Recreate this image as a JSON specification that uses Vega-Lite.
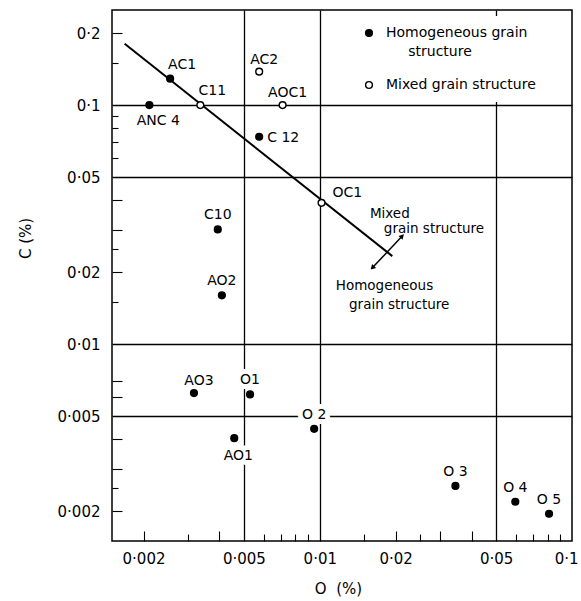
{
  "$schema": "https://vega.github.io/schema/vega-lite/v6.json",
  "width": 460,
  "height": 531,
  "autosize": {"type": "none"},
  "padding": {"left": 112, "top": 10, "right": 9, "bottom": 60},
  "background": "white",
  "config": {
    "view": {"stroke": "black", "strokeWidth": 1.5},
    "font": "DejaVu Sans",
    "axis": {"domain": false, "labelColor": "black", "titleColor": "black", "tickColor": "black", "gridColor": "black", "gridOpacity": 1, "gridWidth": 1.3, "tickWidth": 1.1},
    "text": {"font": "DejaVu Sans", "fontSize": 14, "color": "black"},
    "style": {"guide-label": {"lineHeight": 19}}
  },
  "datasets": {
    "samples": [
      {"name": "AC1", "O": 0.00255, "C": 0.129, "structure": "Homogeneous grain structure"},
      {"name": "ANC 4", "O": 0.00211, "C": 0.1, "structure": "Homogeneous grain structure"},
      {"name": "C11", "O": 0.00336, "C": 0.1, "structure": "Mixed grain structure"},
      {"name": "AC2", "O": 0.00575, "C": 0.138, "structure": "Mixed grain structure"},
      {"name": "AOC1", "O": 0.00712, "C": 0.1, "structure": "Mixed grain structure"},
      {"name": "C 12", "O": 0.00575, "C": 0.0737, "structure": "Homogeneous grain structure"},
      {"name": "OC1", "O": 0.01016, "C": 0.039, "structure": "Mixed grain structure"},
      {"name": "C10", "O": 0.00394, "C": 0.0302, "structure": "Homogeneous grain structure"},
      {"name": "AO2", "O": 0.00409, "C": 0.016, "structure": "Homogeneous grain structure"},
      {"name": "AO3", "O": 0.00317, "C": 0.00624, "structure": "Homogeneous grain structure"},
      {"name": "O1", "O": 0.00529, "C": 0.00616, "structure": "Homogeneous grain structure"},
      {"name": "AO1", "O": 0.00458, "C": 0.00404, "structure": "Homogeneous grain structure"},
      {"name": "O 2", "O": 0.0095, "C": 0.00442, "structure": "Homogeneous grain structure"},
      {"name": "O 3", "O": 0.0345, "C": 0.00255, "structure": "Homogeneous grain structure"},
      {"name": "O 4", "O": 0.0596, "C": 0.00219, "structure": "Homogeneous grain structure"},
      {"name": "O 5", "O": 0.0811, "C": 0.00195, "structure": "Homogeneous grain structure"}
    ],
    "boundary": [
      {"O": 0.001684, "C": 0.1805},
      {"O": 0.01938, "C": 0.02334}
    ],
    "arrow": [
      {"O": 0.01616, "C": 0.02085, "O2": 0.02123, "C2": 0.02831}
    ],
    "arrowHeads": [
      {"O": 0.02123, "C": 0.02831, "end": "up"},
      {"O": 0.01616, "C": 0.02085, "end": "down"}
    ],
    "notes": [
      {"text": "Mixed", "O": 0.0158, "C": 0.0351},
      {"text": "grain structure", "O": 0.01795, "C": 0.0302},
      {"text": "Homogeneous", "O": 0.01157, "C": 0.0175},
      {"text": "grain structure", "O": 0.01306, "C": 0.01456}
    ]
  },
  "encoding": {
    "x": {"field": "O", "type": "quantitative", "scale": {"type": "log", "domain": [0.0015, 0.1], "nice": false, "zero": false}, "axis": null},
    "y": {"field": "C", "type": "quantitative", "scale": {"type": "log", "domain": [0.0015, 0.25], "nice": false, "zero": false}, "axis": null}
  },
  "resolve": {"axis": {"x": "independent", "y": "independent"}},
  "layer": [
    {
      "data": {"name": "boundary"},
      "mark": {"type": "line", "color": "black", "strokeWidth": 2},
      "encoding": {
        "x": {"field": "O", "type": "quantitative", "scale": {"type": "log", "domain": [0.0015, 0.1], "nice": false, "zero": false},
          "axis": {"orient": "bottom", "values": [0.002, 0.004, 0.02, 0.03, 0.04], "labels": false, "grid": false, "ticks": true, "tickSize": -10, "title": null}},
        "y": {"field": "C", "type": "quantitative", "scale": {"type": "log", "domain": [0.0015, 0.25], "nice": false, "zero": false},
          "axis": {"orient": "left", "values": [0.002, 0.003, 0.004, 0.006, 0.007, 0.02, 0.03, 0.04, 0.2], "labels": false, "grid": false, "ticks": true, "tickSize": -10, "title": null}}
      }
    },
    {
      "data": {"name": "arrow"},
      "mark": {"type": "rule", "color": "black", "strokeWidth": 1.5},
      "encoding": {
        "x": {"field": "O", "type": "quantitative", "scale": {"type": "log", "domain": [0.0015, 0.1], "nice": false, "zero": false},
          "axis": {"orient": "bottom", "values": [0.003, 0.006, 0.007, 0.008, 0.009, 0.015, 0.025, 0.06, 0.07, 0.08, 0.09], "labels": false, "grid": false, "ticks": true, "tickSize": -7, "title": null}},
        "y": {"field": "C", "type": "quantitative", "scale": {"type": "log", "domain": [0.0015, 0.25], "nice": false, "zero": false},
          "axis": {"orient": "left", "values": [0.0025, 0.015, 0.025, 0.06, 0.07, 0.08, 0.09, 0.15], "labels": false, "grid": false, "ticks": true, "tickSize": -6, "title": null}},
        "x2": {"field": "O2"},
        "y2": {"field": "C2"}
      }
    },
    {
      "data": {"name": "arrowHeads"},
      "mark": {"type": "point", "shape": "triangle-up", "filled": true, "color": "black", "size": 32, "opacity": 1},
      "encoding": {
        "x": {"field": "O", "type": "quantitative", "scale": {"type": "log", "domain": [0.0015, 0.1], "nice": false, "zero": false},
          "axis": {"orient": "bottom", "values": [0.005, 0.01, 0.05], "labels": false, "ticks": false, "grid": true, "title": null}},
        "y": {"field": "C", "type": "quantitative", "scale": {"type": "log", "domain": [0.0015, 0.25], "nice": false, "zero": false},
          "axis": {"orient": "left", "values": [0.005, 0.01, 0.05, 0.1], "labels": false, "ticks": false, "grid": true, "title": null}},
        "angle": {"field": "end", "type": "nominal", "scale": {"type": "ordinal", "domain": ["up", "down"], "range": [44, 224]}, "legend": null}
      }
    },
    {
      "data": {"name": "samples"},
      "transform": [{"filter": {"field": "name", "oneOf": ["C10", "AO2", "O1", "O 2", "O 3", "O 4", "O 5"]}}],
      "mark": {"type": "text", "dy": -14, "fill": "white", "stroke": "white", "strokeWidth": 10, "strokeJoin": "round"},
      "encoding": {"text": {"field": "name"}}
    },
    {
      "data": {"name": "samples"},
      "transform": [{"filter": {"field": "name", "equal": "AO1"}}],
      "mark": {"type": "text", "dx": 4, "dy": 18, "fill": "white", "stroke": "white", "strokeWidth": 10, "strokeJoin": "round"},
      "encoding": {"text": {"field": "name"}}
    },
    {
      "data": {"name": "samples"},
      "mark": {"type": "point", "shape": "circle", "filled": true, "size": 46, "stroke": "black", "strokeWidth": 1.4, "opacity": 1},
      "encoding": {
        "x": {"field": "O", "type": "quantitative", "scale": {"type": "log", "domain": [0.0015, 0.1], "nice": false, "zero": false},
          "axis": {"orient": "bottom", "values": [0.002, 0.005, 0.01, 0.02, 0.05, 0.1], "ticks": false, "grid": false,
            "labelExpr": "replace(format(datum.value, '.3~f'), '.', '·')", "labelFont": "DejaVu Sans", "labelFontSize": 15, "labelPadding": 10, "labelFlush": true, "labelFlushOffset": 6, "labelOverlap": false,
            "title": "O\u00a0\u00a0(%)", "titleFont": "DejaVu Sans", "titleFontSize": 15, "titleFontWeight": "normal", "titleX": 226, "titleY": 47, "titleBaseline": "middle"}},
        "y": {"field": "C", "type": "quantitative", "scale": {"type": "log", "domain": [0.0015, 0.25], "nice": false, "zero": false},
          "axis": {"orient": "left", "values": [0.002, 0.005, 0.01, 0.02, 0.05, 0.1, 0.2], "ticks": false, "grid": false,
            "labelExpr": "replace(format(datum.value, '.3~f'), '.', '·')", "labelFont": "DejaVu Sans", "labelFontSize": 15, "labelPadding": 12, "labelFlush": false, "labelOverlap": false,
            "title": "C (%)", "titleFont": "DejaVu Sans", "titleFontSize": 15, "titleFontWeight": "normal", "titleX": -87, "titleY": 228, "titleBaseline": "middle"}},
        "fill": {"field": "structure", "type": "nominal",
          "scale": {"domain": ["Homogeneous grain structure", "Mixed grain structure"], "range": ["black", "white"]},
          "legend": {"title": null, "orient": "none", "legendX": 240, "legendY": 6, "padding": 10, "fillColor": "white",
            "symbolType": "circle", "symbolSize": 46, "symbolStrokeColor": "black", "symbolStrokeWidth": 1.4,
            "labelFont": "DejaVu Sans", "labelFontSize": 14, "labelColor": "black", "labelOffset": 10, "labelLimit": 300, "rowPadding": 19,
            "labelExpr": "datum.label == 'Homogeneous grain structure' ? ['Homogeneous grain', '\u200b\u00a0\u00a0\u00a0\u00a0\u00a0structure'] : datum.label"}}
      }
    },
    {
      "data": {"name": "samples"},
      "transform": [{"filter": {"field": "name", "oneOf": ["C10", "AO2", "O1", "O 2", "O 3", "O 4", "O 5"]}}],
      "mark": {"type": "text", "dy": -14},
      "encoding": {"text": {"field": "name"}}
    },
    {
      "data": {"name": "samples"},
      "transform": [{"filter": {"field": "name", "oneOf": ["AO3", "AC2", "AOC1"]}}],
      "mark": {"type": "text", "dx": 5, "dy": -12},
      "encoding": {"text": {"field": "name"}}
    },
    {
      "data": {"name": "samples"},
      "transform": [{"filter": {"field": "name", "oneOf": ["AC1", "C11"]}}],
      "mark": {"type": "text", "dx": 12, "dy": -14},
      "encoding": {"text": {"field": "name"}}
    },
    {
      "data": {"name": "samples"},
      "transform": [{"filter": {"field": "name", "equal": "C 12"}}],
      "mark": {"type": "text", "align": "left", "dx": 8, "dy": 1},
      "encoding": {"text": {"field": "name"}}
    },
    {
      "data": {"name": "samples"},
      "transform": [{"filter": {"field": "name", "equal": "OC1"}}],
      "mark": {"type": "text", "align": "left", "dx": 11, "dy": -10},
      "encoding": {"text": {"field": "name"}}
    },
    {
      "data": {"name": "samples"},
      "transform": [{"filter": {"field": "name", "equal": "AO1"}}],
      "mark": {"type": "text", "dx": 4, "dy": 18},
      "encoding": {"text": {"field": "name"}}
    },
    {
      "data": {"name": "samples"},
      "transform": [{"filter": {"field": "name", "equal": "ANC 4"}}],
      "mark": {"type": "text", "dx": 9, "dy": 16},
      "encoding": {"text": {"field": "name"}}
    },
    {
      "data": {"name": "notes"},
      "mark": {"type": "text", "align": "left", "fontSize": 13.5},
      "encoding": {"text": {"field": "text"}}
    }
  ]
}
